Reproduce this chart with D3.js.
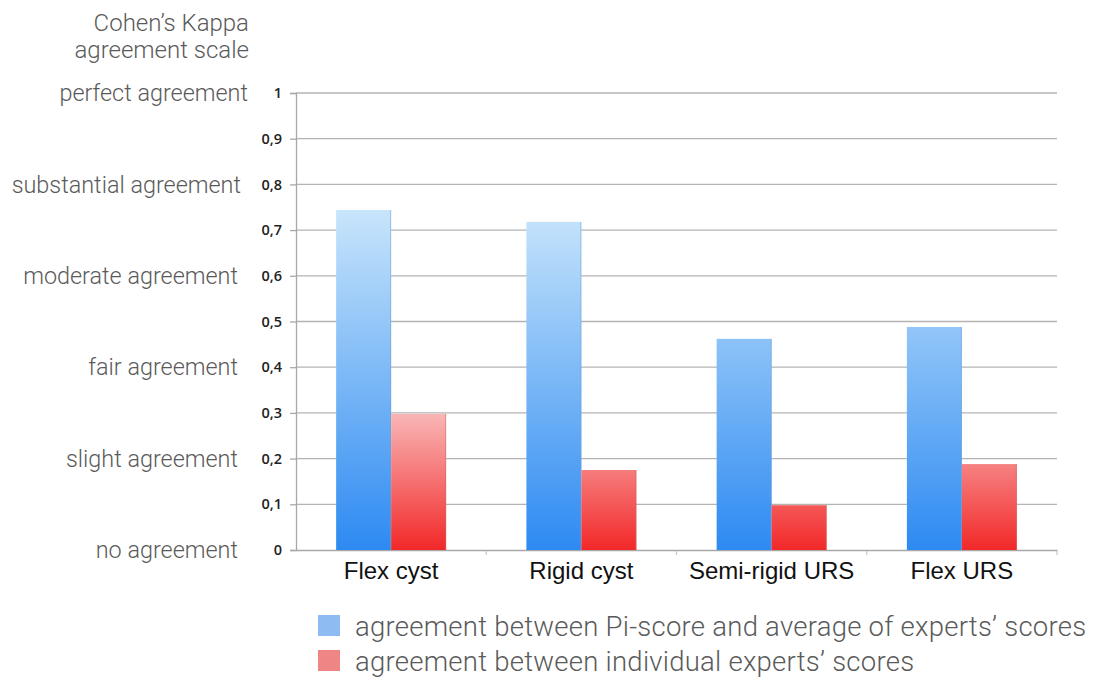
<!DOCTYPE html>
<html>
<head>
<meta charset="utf-8">
<script src="https://cdn.jsdelivr.net/npm/d3@7"></script>
<style>
  html, body { margin: 0; padding: 0; background: #fff; }
  svg { display: block; }
</style>
</head>
<body>
<svg id="chart" width="1095" height="678"></svg>
<script>
// Kappa values per procedure type
const categories = ["Flex cyst", "Rigid cyst", "Semi-rigid URS", "Flex URS"];
const piScoreVsAverage = [0.744, 0.718, 0.462, 0.488];
const betweenExperts = [0.298, 0.175, 0.098, 0.188];
const yTicks = [0, 0.1, 0.2, 0.3, 0.4, 0.5, 0.6, 0.7, 0.8, 0.9, 1];
const scaleLabels = [
  { v: 1, text: "perfect agreement" },
  { v: 0.8, text: "substantial agreement" },
  { v: 0.6, text: "moderate agreement" },
  { v: 0.4, text: "fair agreement" },
  { v: 0.2, text: "slight agreement" },
  { v: 0, text: "no agreement" }
];
const seriesNames = [
  "agreement between Pi-score and average of experts’ scores",
  "agreement between individual experts’ scores"
];

const svg = d3.select("#chart");
const plot = { left: 296, right: 1057, top: 93, bottom: 550 };

const y = d3.scaleLinear().domain([0, 1]).range([plot.bottom, plot.top]);
const x = d3.scaleBand().domain(categories).range([plot.left, plot.right]).paddingInner(0).paddingOuter(0);
const xs = d3.scaleBand().domain([0, 1]).range([0, x.bandwidth()]).paddingInner(0).paddingOuter(0.73);

// Gradients in plot coordinates
const defs = svg.append("defs");
function grad(id, stops, topValue) {
  const g = defs.append("linearGradient").attr("id", id)
    .attr("gradientUnits", "userSpaceOnUse")
    .attr("x1", 0).attr("x2", 0)
    .attr("y1", y(0)).attr("y2", y(topValue));
  g.append("stop").attr("offset", 0).attr("stop-color", stops[0]);
  g.append("stop").attr("offset", 1).attr("stop-color", stops[1]);
}
grad("gBlue", ["#2d8af2", "#c8e5fb"], 0.744);
grad("gRed", ["#f22828", "#f9b7b7"], 0.3);

// Gridlines
svg.append("g").selectAll("line").data(yTicks.filter(d => d > 0)).join("line")
  .attr("x1", plot.left).attr("x2", plot.right)
  .attr("y1", d => y(d)).attr("y2", d => y(d))
  .attr("stroke", "#b4b4b4").attr("stroke-width", 1.3);

// Y axis
const yAxis = svg.append("g").attr("transform", `translate(${plot.left},0)`)
  .call(d3.axisLeft(y).tickValues(yTicks).tickSize(6).tickPadding(8)
    .tickFormat(d => d3.format(".1~f")(d).replace(".", ",")));
yAxis.select(".domain").attr("stroke", "#a8a8a8").attr("stroke-width", 1.3);
yAxis.selectAll(".tick line").attr("stroke", "#a8a8a8").attr("stroke-width", 1.3);
yAxis.selectAll(".tick text")
  .attr("font-family", "'Open Sans', 'Liberation Sans', sans-serif")
  .attr("font-size", 14.5).attr("font-weight", 600).attr("fill", "#222");

// X axis
const xAxis = svg.append("g").attr("transform", `translate(0,${plot.bottom})`)
  .call(d3.axisBottom(x).tickSize(0).tickPadding(12));
xAxis.select(".domain").attr("stroke", "#a8a8a8").attr("stroke-width", 1.3);
xAxis.selectAll(".tick text")
  .attr("font-family", "'Liberation Sans', Arial, sans-serif")
  .attr("font-size", 24).attr("fill", "#111");
// small separators between categories
const sepX = categories.slice(1).map(c => x(c)).concat([plot.right]);
svg.append("g").selectAll("line").data(sepX).join("line")
  .attr("x1", d => d).attr("x2", d => d)
  .attr("y1", plot.bottom + 1).attr("y2", plot.bottom + 5)
  .attr("stroke", "#c8c8c8").attr("stroke-width", 1.2);

// Bars
const series = [
  { values: piScoreVsAverage, fill: "url(#gBlue)", edge: "#6f9fd0" },
  { values: betweenExperts, fill: "url(#gRed)", edge: "#c86a6a" }
];
series.forEach((s, si) => {
  const g = svg.append("g");
  g.selectAll("rect").data(categories).join("rect")
    .attr("x", d => x(d) + xs(si))
    .attr("width", xs.bandwidth())
    .attr("y", (d, i) => y(s.values[i]))
    .attr("height", (d, i) => y(0) - y(s.values[i]))
    .attr("fill", s.fill);
  // thin shaded right edge
  g.selectAll("line").data(categories).join("line")
    .attr("x1", d => x(d) + xs(si) + xs.bandwidth() - 0.5)
    .attr("x2", d => x(d) + xs(si) + xs.bandwidth() - 0.5)
    .attr("y1", (d, i) => y(s.values[i]))
    .attr("y2", y(0))
    .attr("stroke", s.edge).attr("stroke-opacity", 0.5).attr("stroke-width", 1);
});

// Agreement scale labels
const lightFont = "Roboto, 'Open Sans', sans-serif";
const labelRight = { 1: 248, 0.8: 241, 0.6: 238, 0.4: 238, 0.2: 238, 0: 238 };
svg.append("g").selectAll("text").data(scaleLabels).join("text")
  .attr("x", d => labelRight[d.v])
  .attr("y", d => y(d.v))
  .attr("dy", "0.35em")
  .attr("text-anchor", "end")
  .attr("font-family", lightFont).attr("font-weight", 300)
  .attr("font-size", 23.4).attr("fill", "#5a5a5a")
  .text(d => d.text);

const title = svg.append("text")
  .attr("text-anchor", "end")
  .attr("font-family", lightFont).attr("font-weight", 300)
  .attr("font-size", 24).attr("fill", "#5a5a5a");
title.append("tspan").attr("x", 249).attr("y", 31).text("Cohen’s Kappa");
title.append("tspan").attr("x", 249).attr("y", 58).text("agreement scale");

// Legend
const legendColors = ["#8ebcf2", "#ef8585"];
const legend = svg.append("g").selectAll("g").data(seriesNames).join("g")
  .attr("transform", (d, i) => `translate(318,${615 + i * 35})`);
legend.append("rect").attr("width", 22).attr("height", 21)
  .attr("fill", (d, i) => legendColors[i]);
legend.append("text").attr("x", 37).attr("y", 11).attr("dy", "0.35em")
  .attr("font-family", lightFont).attr("font-weight", 300)
  .attr("font-size", 27.5).attr("letter-spacing", 0.25).attr("fill", "#5a5a5a")
  .text(d => d);
</script>
</body>
</html>
